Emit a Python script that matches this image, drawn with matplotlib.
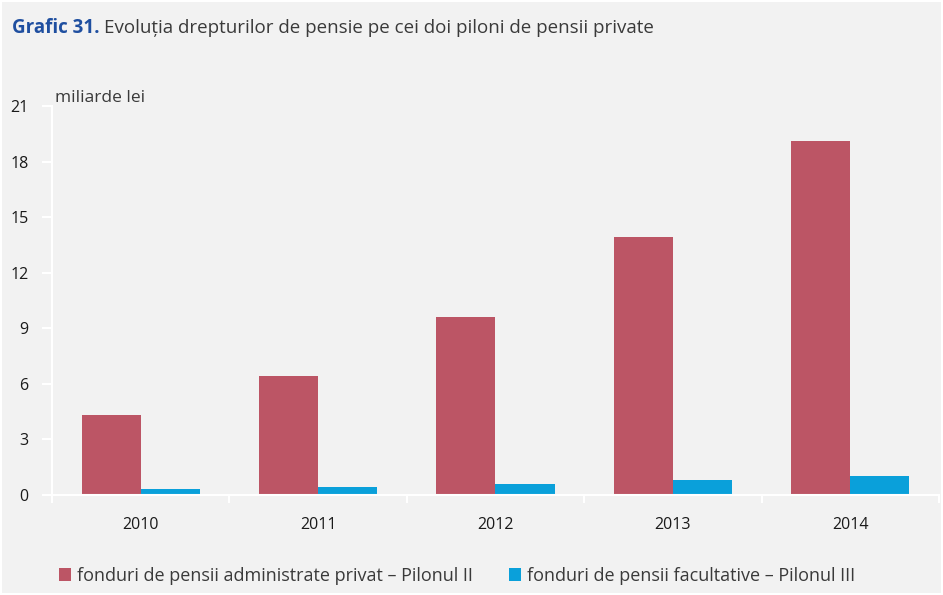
import matplotlib.pyplot as plt
import numpy as np
from matplotlib.patches import Rectangle

years = ['2010', '2011', '2012', '2013', '2014']
pilon2 = [4.32, 6.43, 9.61, 13.93, 19.11]
pilon3 = [0.32, 0.43, 0.60, 0.81, 1.03]
yticks = [0, 3, 6, 9, 12, 15, 18, 21]

red = '#bc5565'
blue = '#0aa0da'
bg = '#f2f2f2'
txt = '#3a3a3a'

plt.rcParams['font.family'] = ['Open Sans', 'DejaVu Sans']

fig = plt.figure(figsize=(9.43, 5.95), dpi=100)
fig.patch.set_facecolor('white')
fig.patches.append(Rectangle((0.002, 0.003), 0.996, 0.994, transform=fig.transFigure,
                             facecolor=bg, edgecolor='none', zorder=-1))

ax = fig.add_axes([0.0551, 0.168, 0.9407, 0.6538])
ax.set_facecolor(bg)
ax.patch.set_alpha(0)

x = np.arange(len(years))
w = 1 / 3
ax.bar(x - w / 2, pilon2, w, color=red, label='fonduri de pensii administrate privat – Pilonul II')
ax.bar(x + w / 2, pilon3, w, color=blue, label='fonduri de pensii facultative – Pilonul III')

ax.set_xlim(-0.5, 4.5)
ax.set_ylim(0, 21)
ax.set_yticks(yticks)
ax.set_yticklabels([str(t) for t in yticks], fontsize=11.5, color='#1a1a1a')
ax.set_xticks(x)
ax.set_xticklabels(years, fontsize=11.5, color='#1a1a1a')
ax.set_xticks(np.arange(-0.5, 5, 1), minor=True)
ax.tick_params(axis='x', which='major', length=0, pad=16)
ax.tick_params(axis='x', which='minor', length=6, color='white', width=1.5)
ax.tick_params(axis='y', length=7, color='white', width=1.5, pad=10)

for s in ['top', 'right']:
    ax.spines[s].set_visible(False)
for s in ['left', 'bottom']:
    ax.spines[s].set_color('white')
    ax.spines[s].set_linewidth(1.5)

ax.text(0.003, 1.0, 'miliarde lei', transform=ax.transAxes, fontsize=12.5, color=txt,
        ha='left', va='bottom')

t1 = fig.text(0.013, 0.953, 'Grafic 31.', fontsize=13.5, fontweight='bold', color='#1f4fa0',
              ha='left', va='center')
fig.canvas.draw()
bb = t1.get_window_extent().transformed(fig.transFigure.inverted())
fig.text(bb.x1 + 0.004, 0.953, 'Evoluția drepturilor de pensie pe cei doi piloni de pensii private',
         fontsize=13.5, color=txt, ha='left', va='center')

leg = fig.legend(loc='lower left', bbox_to_anchor=(0.045, -0.01), ncol=2, frameon=False,
                 fontsize=13, handlelength=0.7, handleheight=0.7, handletextpad=0.3,
                 columnspacing=2.0, labelcolor=txt)

fig.savefig('out.png', dpi=100, facecolor=fig.get_facecolor())
